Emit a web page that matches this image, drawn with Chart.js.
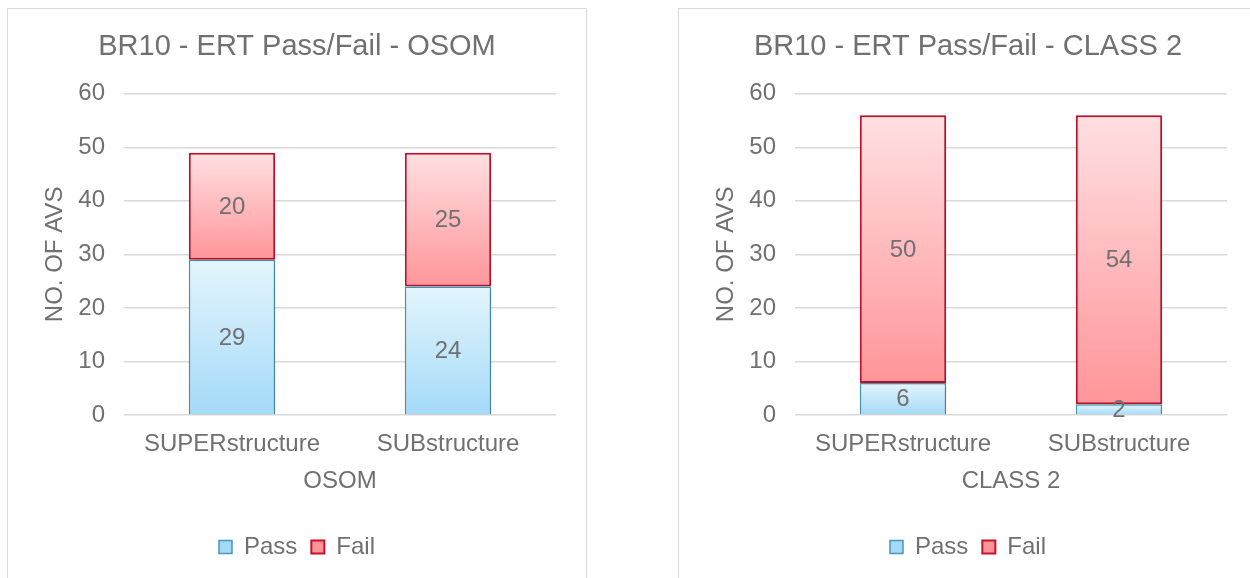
<!DOCTYPE html>
<html>
<head>
<meta charset="utf-8">
<script src="https://cdn.jsdelivr.net/npm/chart.js@4.4.1/dist/chart.umd.min.js"></script>
<style>
  html, body { margin: 0; padding: 0; background: #fff; overflow: hidden; }
  body { width: 1250px; height: 578px; position: relative; }
  .panel { position: absolute; top: 8px; width: 578px; height: 600px; border: 1px solid #d9d9d9; background: #fff; }
  #panelLeft { left: 7px; }
  #panelRight { left: 678px; }
  canvas { position: absolute; left: 0; top: 0; }
</style>
</head>
<body>
<div class="panel" id="panelLeft"><canvas id="chartOsom" width="578" height="570"></canvas></div>
<div class="panel" id="panelRight"><canvas id="chartClass2" width="578" height="570"></canvas></div>
<script>
// chart data
const categories = ["SUPERstructure", "SUBstructure"];
const osomPass = [29, 24];
const osomFail = [20, 25];
const class2Pass = [6, 2];
const class2Fail = [50, 54];
const yMax = 60;
const yStep = 10;

const textColor = "#707070";
const fontFamily = "'Liberation Sans', Arial, sans-serif";

// colours used by both charts
const passTop = "#e4f5fd", passBottom = "#a4daf8", passBorder = "#4a97b3";
const failTop = "#ffe0e2", failBottom = "#ff9599", failBorder = "#c8102e";

function gradientFill(top, bottom, fallback, startOf, endOf) {
  return function (context) {
    const chart = context.chart;
    if (!chart.chartArea || context.dataIndex === undefined) return fallback;
    const y = chart.scales.y;
    const i = context.dataIndex;
    const yTop = y.getPixelForValue(endOf(i));
    const yBottom = y.getPixelForValue(startOf(i));
    if (!isFinite(yTop) || !isFinite(yBottom) || yTop === yBottom) return fallback;
    const g = chart.ctx.createLinearGradient(0, yTop, 0, yBottom);
    g.addColorStop(0, top);
    g.addColorStop(1, bottom);
    return g;
  };
}

const shadowPlugin = {
  id: "barShadow",
  beforeDatasetsDraw: function (chart) {
    const ctx = chart.ctx;
    ctx.save();
    ctx.shadowColor = "rgba(0,0,0,0.22)";
    ctx.shadowBlur = 4;
    ctx.shadowOffsetX = 1;
    ctx.shadowOffsetY = 1;
  },
  afterDatasetsDraw: function (chart) {
    chart.ctx.restore();
  }
};

const valueLabels = {
  id: "valueLabels",
  afterDatasetsDraw: function (chart) {
    const ctx = chart.ctx;
    ctx.save();
    ctx.fillStyle = textColor;
    ctx.font = "24px " + fontFamily;
    ctx.textAlign = "center";
    ctx.textBaseline = "middle";
    chart.data.datasets.forEach(function (ds, di) {
      const meta = chart.getDatasetMeta(di);
      meta.data.forEach(function (bar, i) {
        const cy = (bar.y + bar.base) / 2;
        ctx.fillText(String(ds.data[i]), bar.x, cy + 1);
      });
    });
    ctx.restore();
  }
};

function makeChart(canvasId, titleText, axisTitle, passValues, failValues) {
  const data = {
    labels: categories,
    datasets: [
      {
        label: "Pass",
        data: passValues,
        backgroundColor: gradientFill(passTop, passBottom, "#cbeafb",
          function () { return 0; },
          function (i) { return passValues[i]; }),
        borderColor: passBorder,
        borderWidth: 1.5,
        borderSkipped: "start",
        categoryPercentage: 1,
        barPercentage: 0.4
      },
      {
        label: "Fail",
        data: failValues,
        backgroundColor: gradientFill(failTop, failBottom, "#ffc3c6",
          function (i) { return passValues[i]; },
          function (i) { return passValues[i] + failValues[i]; }),
        borderColor: failBorder,
        borderWidth: 2,
        borderSkipped: false,
        categoryPercentage: 1,
        barPercentage: 0.4
      }
    ]
  };

  const config = {
    type: "bar",
    data: data,
    options: {
      responsive: false,
      animation: false,
      layout: { padding: { left: 0, right: 0, top: 0, bottom: 10 } },
      plugins: {
        title: {
          display: true,
          text: titleText,
          color: textColor,
          font: { family: fontFamily, size: 29, weight: "normal" },
          padding: { top: 21, bottom: 29 }
        },
        legend: {
          display: true,
          position: "bottom",
          labels: {
            color: textColor,
            font: { family: fontFamily, size: 24 },
            boxWidth: 13,
            boxHeight: 13,
            padding: 14
          }
        },
        tooltip: { enabled: false }
      },
      scales: {
        x: {
          stacked: true,
          grid: { display: false, drawTicks: false },
          border: { display: false },
          ticks: { color: textColor, font: { family: fontFamily, size: 24 }, padding: 15, maxRotation: 0 },
          title: {
            display: true,
            text: axisTitle,
            color: textColor,
            font: { family: fontFamily, size: 24 },
            padding: { top: 0, bottom: 25 }
          },
          afterFit: function (scale) { scale.height = 106; }
        },
        y: {
          stacked: true,
          min: 0,
          max: yMax,
          grid: { color: "#d9d9d9", lineWidth: 1.5, drawTicks: false },
          border: { display: false },
          ticks: { stepSize: yStep, color: textColor, font: { family: fontFamily, size: 24 }, padding: 19 },
          title: {
            display: true,
            text: "NO. OF AVS",
            color: textColor,
            font: { family: fontFamily, size: 24 },
            padding: { top: 33, bottom: 0 }
          },
          afterFit: function (scale) { scale.width = 116; }
        },
        // empty right axis only reserves the space on the right of the plot
        yRight: {
          type: "linear",
          position: "right",
          display: true,
          grid: { display: false, drawTicks: false },
          border: { display: false },
          ticks: { display: false },
          afterFit: function (scale) { scale.width = 30; }
        }
      }
    },
    plugins: [shadowPlugin, valueLabels]
  };

  return new Chart(document.getElementById(canvasId), config);
}

makeChart("chartOsom", "BR10 - ERT Pass/Fail - OSOM", "OSOM", osomPass, osomFail);
makeChart("chartClass2", "BR10 - ERT Pass/Fail - CLASS 2", "CLASS 2", class2Pass, class2Fail);
</script>
</body>
</html>
